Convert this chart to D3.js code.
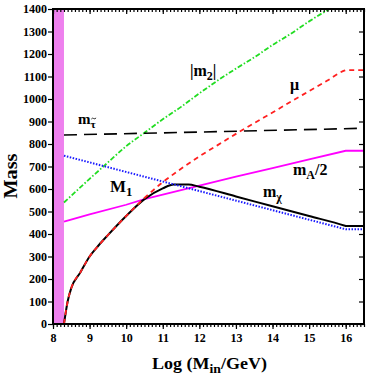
<!DOCTYPE html>
<html>
<head>
<meta charset="utf-8">
<script src="https://cdn.jsdelivr.net/npm/d3@7"></script>
<style>
  body { margin: 0; background: #fff; }
  svg text { font-family: "Liberation Serif", "Times New Roman", serif; font-weight: bold; fill: #000; }
</style>
</head>
<body>
<div class="chart"></div>
<script>
// x = Log(M_in/GeV), y = mass in GeV
let xTicks = [8, 9, 10, 11, 12, 13, 14, 15, 16];
let yTicks = [0, 100, 200, 300, 400, 500, 600, 700, 800, 900, 1000, 1100, 1200, 1300, 1400];

let excluded = [8, 8.3];

let stauX = [8.3, 12, 16.5];
let stauY = [840, 853, 870];

let m2X = [8.3, 9, 9.5, 10, 10.5, 11, 11.5, 12, 12.5, 13, 13.5, 14, 14.5, 15, 15.5, 16];
let m2Y = [540, 645, 718, 790, 850, 910, 965, 1025, 1082, 1135, 1185, 1240, 1290, 1345, 1395, 1440];

let muX = [8.3, 8.4, 8.5, 8.75, 9, 9.25, 9.5, 10, 10.5, 11, 11.5, 12, 12.5, 13, 13.5, 14, 14.5, 15, 15.5, 15.98, 16, 16.5];
let muY = [0, 100, 160, 230, 300, 350, 395, 480, 560, 630, 690, 745, 795, 845, 893, 940, 988, 1035, 1082, 1127, 1128, 1128];

let chiX = [8.3, 8.4, 8.5, 8.75, 9, 9.25, 9.5, 10, 10.5, 11, 11.3, 11.7, 12, 13, 14, 15, 15.98, 16, 16.5];
let chiY = [0, 100, 160, 230, 300, 350, 395, 480, 555, 603, 620, 620, 610, 567, 523, 480, 437, 436, 436];

let m1X = [8.3, 16, 16.5];
let m1Y = [748, 421, 421];

let mAX = [8.3, 9, 10, 10.5, 11, 12, 13, 14, 15, 16, 16.5];
let mAY = [455, 487, 530, 555, 575, 615, 655, 693, 732, 770, 770];

let svgWidth = 369;
let svgHeight = 382;

let margin = { top: 9, right: 5, bottom: 58, left: 53 };
let width = svgWidth - margin.left - margin.right;
let height = svgHeight - margin.top - margin.bottom;

let svg = d3.select(".chart")
    .append("svg")
    .attr("width", svgWidth)
    .attr("height", svgHeight);

let chartGroup = svg.append("g")
    .attr("transform", `translate(${margin.left}, ${margin.top})`);

let x = d3.scaleLinear().domain([8, 16.5]).range([0, width]);
let y = d3.scaleLinear().domain([0, 1400]).range([height, 0]);

chartGroup.append("clipPath")
    .attr("id", "plotClip")
    .append("rect")
    .attr("width", width)
    .attr("height", height);

let plot = chartGroup.append("g").attr("clip-path", "url(#plotClip)");

plot.append("rect")
    .attr("x", x(excluded[0]))
    .attr("y", 0)
    .attr("width", x(excluded[1]) - x(excluded[0]))
    .attr("height", height)
    .attr("fill", "#ee80ee");

function series(xs, ys) {
    return xs.map((d, i) => [d, ys[i]]);
}

function line(curve) {
    return d3.line()
        .x(d => x(d[0]))
        .y(d => y(d[1]))
        .curve(curve);
}

let curves = [
    { pts: series(mAX, mAY), color: "#ff00ff", dash: null, w: 1.8, curve: d3.curveLinear },
    { pts: series(m2X, m2Y), color: "#22dd22", dash: "5,2,1.5,2", w: 1.8, curve: d3.curveMonotoneX },
    { pts: series(stauX, stauY), color: "#000", dash: "13,7", w: 1.6, curve: d3.curveLinear },
    { pts: series(chiX, chiY), color: "#000", dash: null, w: 2, curve: d3.curveMonotoneX },
    { pts: series(muX, muY), color: "#ff2020", dash: "5,4", w: 1.8, curve: d3.curveMonotoneX },
    { pts: series(m1X, m1Y), color: "#1a1aff", dash: "1.5,1.5", w: 2, curve: d3.curveLinear }
];

curves.forEach(c => {
    plot.append("path")
        .attr("d", line(c.curve)(c.pts))
        .attr("fill", "none")
        .attr("stroke", c.color)
        .attr("stroke-width", c.w)
        .attr("stroke-dasharray", c.dash);
});

// axes
let minorX = d3.range(80, 166).map(d => d / 10);

chartGroup.append("g")
    .attr("transform", `translate(0, ${height})`)
    .call(d3.axisBottom(x).tickValues(minorX).tickSize(3).tickFormat(""));

chartGroup.append("g")
    .call(d3.axisTop(x).tickValues(minorX).tickSize(-3).tickFormat(""));

chartGroup.append("g")
    .call(d3.axisTop(x).tickValues(xTicks).tickSize(-5).tickFormat(""));

let xAxis = chartGroup.append("g")
    .attr("transform", `translate(0, ${height})`)
    .call(d3.axisBottom(x).tickValues(xTicks).tickSize(5).tickPadding(4).tickFormat(d3.format("d")));

let yAxis = chartGroup.append("g")
    .call(d3.axisLeft(y).tickValues(yTicks).tickSize(5).tickPadding(1).tickFormat(d3.format("d")));

chartGroup.append("g")
    .attr("transform", `translate(${width}, 0)`)
    .call(d3.axisRight(y).tickValues(yTicks).tickSize(-5).tickFormat(""));

chartGroup.selectAll(".tick text")
    .style("font-size", "12px")
    .style("font-family", "Liberation Serif")
    .style("font-weight", "bold");

chartGroup.selectAll(".domain").attr("stroke", "none");
chartGroup.selectAll(".tick line").attr("stroke", "#000").attr("stroke-width", 1.2);

chartGroup.append("rect")
    .attr("width", width)
    .attr("height", height)
    .attr("fill", "none")
    .attr("stroke", "#000")
    .attr("stroke-width", 2);

// curve labels
function label(px, py, main, sub, rest, size) {
    let t = chartGroup.append("text")
        .attr("x", px - margin.left)
        .attr("y", py - margin.top)
        .style("font-size", size + "px");
    t.append("tspan").text(main);
    if (sub) t.append("tspan").attr("dy", 4).style("font-size", (size * 0.75) + "px").text(sub);
    if (rest) t.append("tspan").attr("dy", -4).text(rest);
    return t;
}

label(190, 76, "|m", "2", "|", 16);
label(290, 90, "\u03bc", null, null, 16);
label(78, 124, "m", "\u03c4", null, 15);
// tilde over the stau subscript
chartGroup.append("path")
    .attr("transform", `translate(${91.3 - margin.left}, ${118.5 - margin.top})`)
    .attr("d", "M0,0.6 Q1.2,-1 2.4,0 T4.8,-0.6")
    .attr("fill", "none")
    .attr("stroke", "#000")
    .attr("stroke-width", 0.8);
label(110, 192, "M", "1", null, 17);
label(293, 175, "m", "A", "/2", 16);
label(263, 197, "m", "\u03c7", null, 16);

// axis titles
chartGroup.append("text")
    .attr("transform", "rotate(-90)")
    .attr("x", -(176 - margin.top))
    .attr("y", 17 - margin.left)
    .attr("text-anchor", "middle")
    .attr("textLength", 45)
    .attr("lengthAdjust", "spacingAndGlyphs")
    .style("font-size", "18px")
    .text("Mass");

let xt = chartGroup.append("text")
    .attr("x", 152 - margin.left)
    .attr("y", 369 - margin.top)
    .attr("textLength", 115)
    .attr("lengthAdjust", "spacingAndGlyphs")
    .style("font-size", "17px");
xt.append("tspan").text("Log (M");
xt.append("tspan").attr("dy", 4).style("font-size", "13px").text("in");
xt.append("tspan").attr("dy", -4).text("/GeV)");
</script>
</body>
</html>
